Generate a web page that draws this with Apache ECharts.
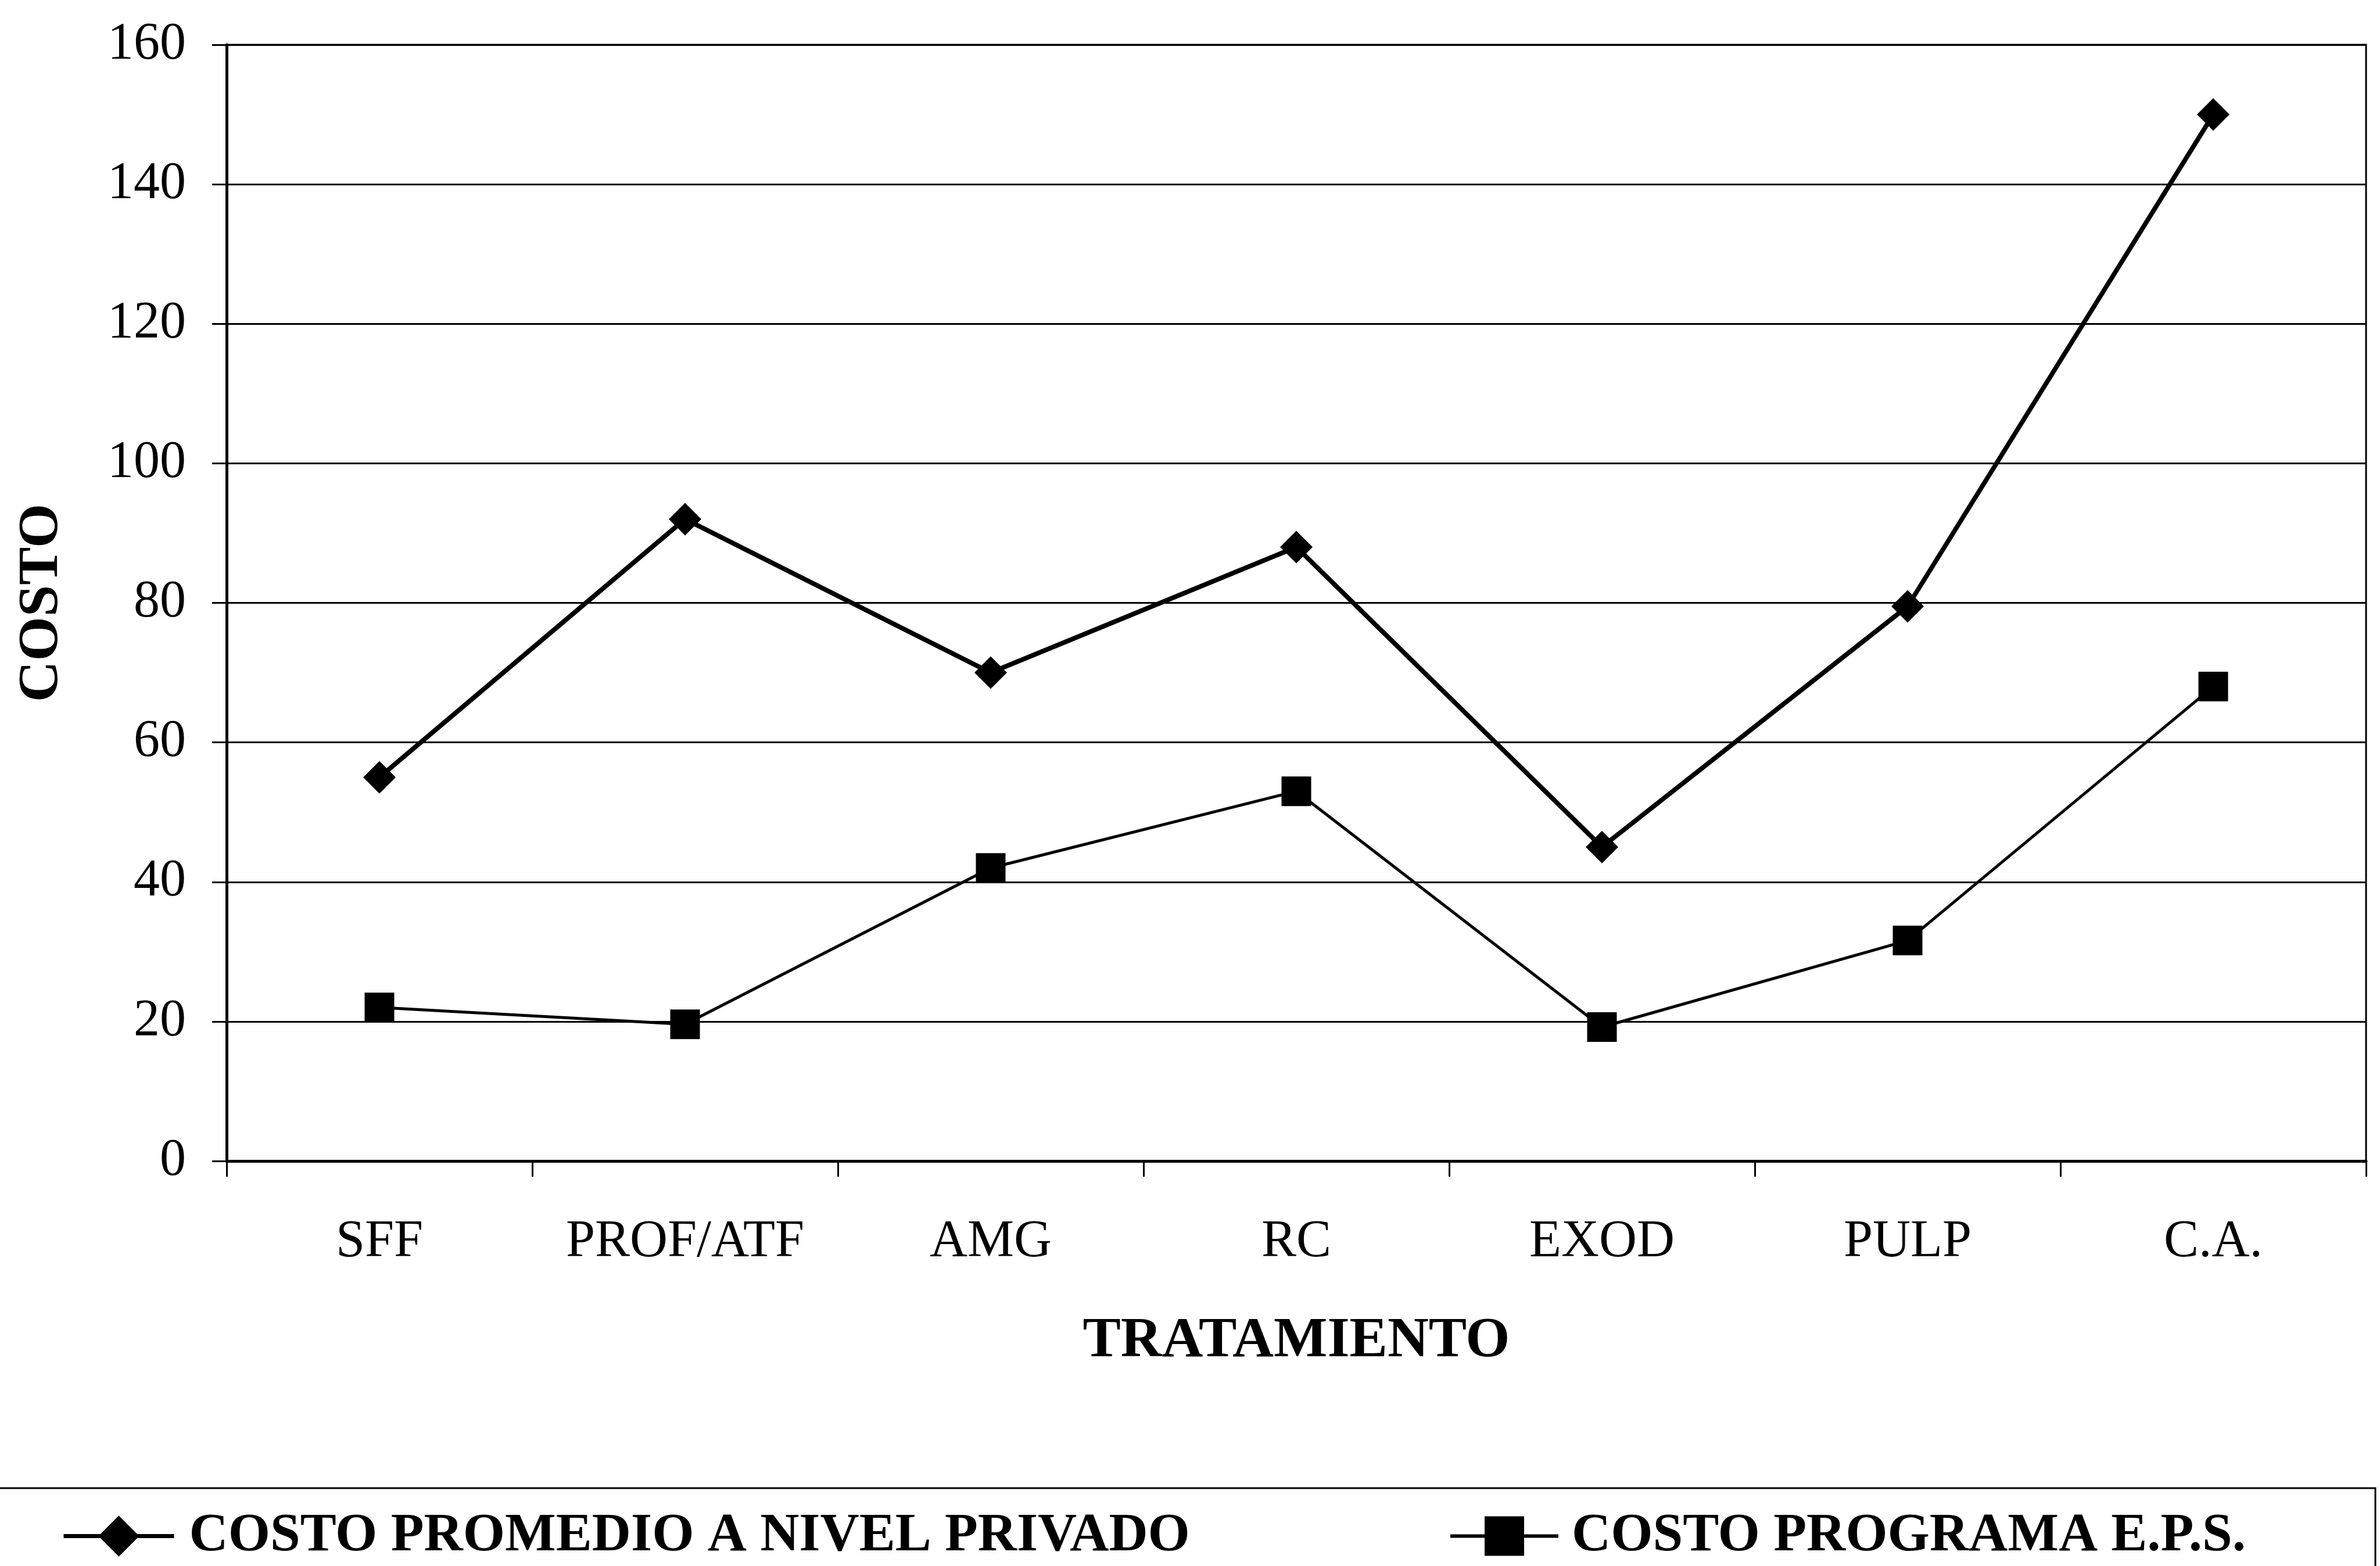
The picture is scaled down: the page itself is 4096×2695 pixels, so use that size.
<!DOCTYPE html>
<html>
<head>
<meta charset="utf-8">
<style>
  html, body { margin: 0; padding: 0; background: #ffffff; }
  #chart { width: 4096px; height: 2695px; }
</style>
<script src="https://cdn.jsdelivr.net/npm/echarts@6/dist/echarts.min.js"></script>
</head>
<body>
<div id="chart"></div>
<script>
const categories = ['SFF', 'PROF/ATF', 'AMG', 'RC', 'EXOD', 'PULP', 'C.A.'];
const seriesNames = ['COSTO PROMEDIO A NIVEL PRIVADO', 'COSTO PROGRAMA E.P.S.'];
const costoPrivado = [55, 92, 70, 88, 45, 79.5, 150];
const costoEPS = [22, 19.6, 42, 53, 19.2, 31.6, 68];
const yTicks = { min: 0, max: 160, interval: 20 };
const xAxisTitle = 'TRATAMIENTO';
const yAxisTitle = 'COSTO';

const FONT = '"Liberation Serif", "Times New Roman", serif';
const chart = echarts.init(document.getElementById('chart'), null, { renderer: 'canvas' });

const option = {
  backgroundColor: '#ffffff',
  animation: false,
  grid: {
    left: 390, right: 24, top: 77, bottom: 697,
    show: true, borderColor: '#000', borderWidth: 3, backgroundColor: 'transparent'
  },
  xAxis: {
    type: 'category',
    data: categories,
    boundaryGap: true,
    name: xAxisTitle,
    nameLocation: 'middle',
    nameGap: 262,
    nameTextStyle: { fontFamily: FONT, fontWeight: 'bold', fontSize: 98, color: '#000', lineHeight: 98 },
    axisLine: { show: true, lineStyle: { color: '#000', width: 5 } },
    axisTick: { show: true, interval: 0, length: 27, lineStyle: { color: '#000', width: 3 }, alignWithLabel: false },
    axisLabel: { interval: 0, margin: 95, fontFamily: FONT, fontSize: 90, color: '#000', lineHeight: 90 },
    splitLine: { show: false }
  },
  yAxis: {
    type: 'value',
    min: yTicks.min, max: yTicks.max, interval: yTicks.interval,
    name: yAxisTitle,
    nameLocation: 'middle',
    nameGap: 268,
    nameTextStyle: { fontFamily: FONT, fontWeight: 'bold', fontSize: 98, color: '#000', lineHeight: 98 },
    axisLine: { show: true, lineStyle: { color: '#000', width: 5 } },
    axisTick: { show: true, length: 25, lineStyle: { color: '#000', width: 3 } },
    axisLabel: { margin: 70, fontFamily: FONT, fontSize: 90, color: '#000', lineHeight: 90 },
    splitLine: { show: true, lineStyle: { color: '#000', width: 3 } }
  },
  legend: [
    {
      data: [seriesNames[0]],
      left: 106, top: 2597, padding: 0,
      itemWidth: 190, itemHeight: 88,
      lineStyle: { width: 7, color: '#000' },
      textStyle: { fontFamily: FONT, fontWeight: 'bold', fontSize: 93, color: '#000', lineHeight: 93, padding: [0, 0, 0, 21] }
    },
    {
      data: [seriesNames[1]],
      left: 2493, top: 2597, padding: 0,
      itemWidth: 186, itemHeight: 85,
      lineStyle: { width: 6, color: '#000' },
      textStyle: { fontFamily: FONT, fontWeight: 'bold', fontSize: 93, color: '#000', lineHeight: 93, padding: [0, 0, 0, 18] }
    }
  ],
  graphic: [
    {
      type: 'rect',
      shape: { x: -10, y: 2561, width: 4098, height: 200 },
      style: { fill: 'none', stroke: '#000', lineWidth: 3 },
      silent: true
    }
  ],
  series: [
    {
      name: seriesNames[0],
      type: 'line',
      data: costoPrivado,
      symbol: 'diamond',
      symbolSize: 56,
      lineStyle: { color: '#000', width: 8 },
      itemStyle: { color: '#000' },
      z: 3
    },
    {
      name: seriesNames[1],
      type: 'line',
      data: costoEPS,
      symbol: 'rect',
      symbolSize: 51,
      lineStyle: { color: '#000', width: 5 },
      itemStyle: { color: '#000' },
      z: 3
    }
  ]
};
chart.setOption(option);
</script>
</body>
</html>
